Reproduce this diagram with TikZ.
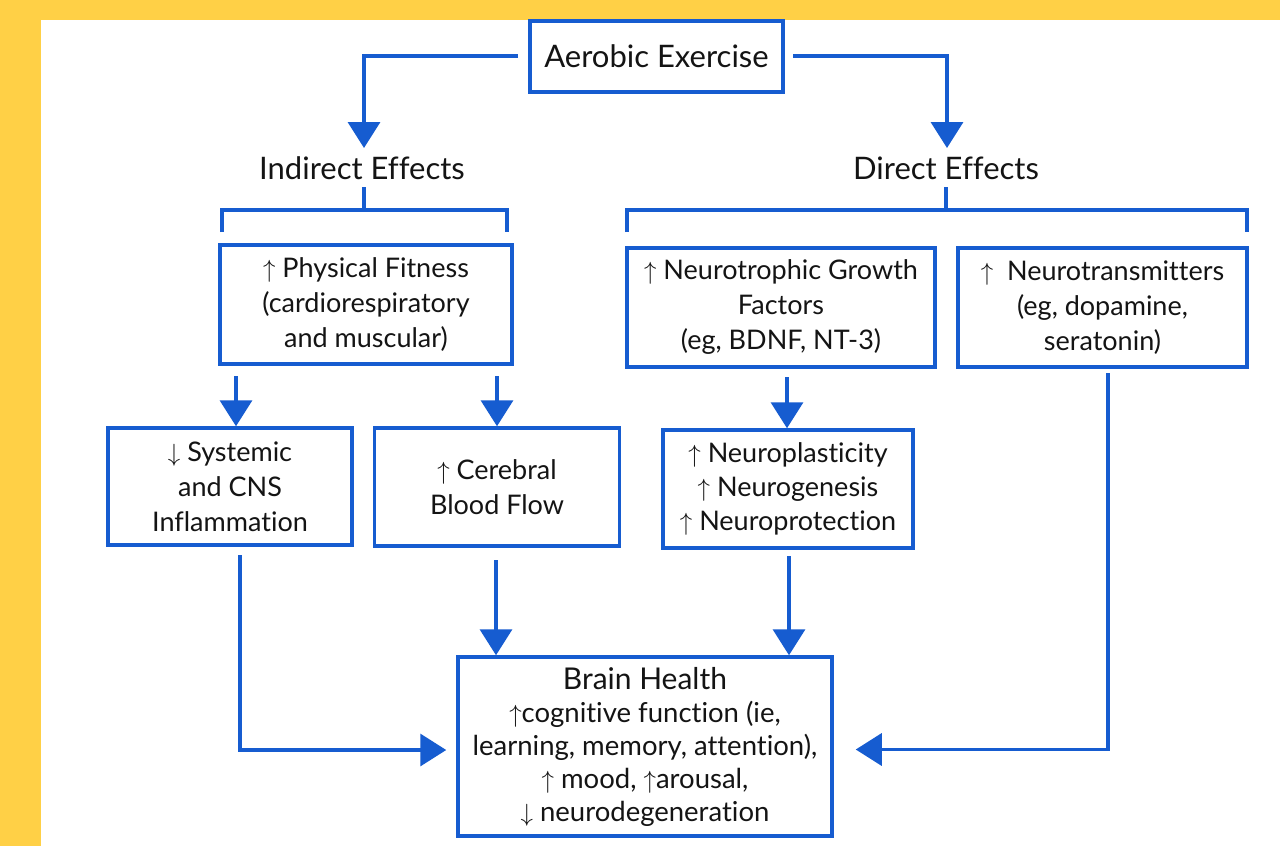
\documentclass[tikz,border=0pt]{standalone}
\usepackage{fontspec}
\setmainfont{Lato}[Ligatures=NoCommon]
\usetikzlibrary{arrows.meta}
\definecolor{bl}{RGB}{22,92,208}
\definecolor{yel}{RGB}{255,208,70}
\definecolor{ink}{RGB}{20,20,20}
\newcommand{\upar}{$\uparrow$}
\newcommand{\dnar}{$\downarrow$}
\begin{document}
\begin{tikzpicture}[x=1pt,y=-1pt,
  box/.style={draw=bl, line width=3.5pt, text=ink, align=center, inner sep=0pt,
    font=\fontsize{27}{35}\selectfont},
  ln/.style={draw=bl, line width=3.5pt},
  arr/.style={ln, -{Triangle[width=32pt,length=26pt]}},
  head/.style={text=ink, inner sep=0pt, font=\fontsize{31}{36}\selectfont}]
\fill[yel] (0,0) rectangle (1280,846);
\fill[white] (41,20) rectangle (1280,846);
\useasboundingbox (0,0) rectangle (1280,846);

% nodes
\node[box, minimum width=253pt, minimum height=71pt, font=\fontsize{31}{36}\selectfont] (aer) at (656.5,56.5) {Aerobic Exercise};
\node[head] (ind) at (362,168) {Indirect Effects};
\node[head] (dir) at (946,168) {Direct Effects};

\node[box, minimum width=292pt, minimum height=119pt] (pf) at (366,304.5)
  {\upar\ Physical Fitness\\(cardiorespiratory\\and muscular)};
\node[box, minimum width=308pt, minimum height=119pt] (ntg) at (781,307.5)
  {\upar\ Neurotrophic Growth\\Factors\\(eg, BDNF, NT-3)};
\node[box, minimum width=289pt, minimum height=119pt] (ntm) at (1102.5,307.5)
  {\upar\ \ Neurotransmitters\\(eg, dopamine,\\seratonin)};
\node[box, minimum width=244pt, minimum height=117pt] (sys) at (230,486.5)
  {\dnar\ Systemic\\and CNS\\Inflammation};
\node[box, minimum width=245pt, minimum height=118pt] (cbf) at (497,487)
  {\upar\ Cerebral\\Blood Flow};
\node[box, minimum width=250pt, minimum height=118pt, font=\fontsize{27}{34}\selectfont] (npl) at (788,489)
  {\upar\ Neuroplasticity\\\upar\ Neurogenesis\\\upar\ Neuroprotection};
\node[box, minimum width=374pt, minimum height=179pt, font=\fontsize{27.5}{33}\selectfont] (bh) at (645,746.5)
  {{\fontsize{30}{33}\selectfont Brain Health}\\\upar cognitive function (ie,\\learning, memory, attention),\\\upar\ mood, \upar arousal,\\\dnar\ neurodegeneration};

% top connectors
\coordinate (aL) at (518,56);
\coordinate (aR) at (793,56);
\coordinate (indT) at (364,148);
\coordinate (dirT) at (947,148);
\draw[arr] (aL) -| (indT);
\draw[arr] (aR) -| (dirT);

% brackets
\coordinate (bLc) at (364,187);
\coordinate (bLm) at (364,210);
\coordinate (bL1) at (222,232);
\coordinate (bL2) at (507,232);
\draw[ln] (bLc) -- (bLm);
\draw[ln] (bL1) -- (bL1 |- bLm) -- (bL2 |- bLm) -- (bL2);

\coordinate (bRc) at (946,187);
\coordinate (bRm) at (946,210);
\coordinate (bR1) at (627,232);
\coordinate (bR2) at (1247,232);
\draw[ln] (bRc) -- (bRm);
\draw[ln] (bR1) -- (bR1 |- bRm) -- (bR2 |- bRm) -- (bR2);

% middle arrows
\coordinate (p1) at (236,376);
\coordinate (p2) at (497,376);
\coordinate (p3) at (787,377);
\draw[arr] (p1) -- (p1 |- sys.north);
\draw[arr] (p2) -- (p2 |- cbf.north);
\draw[arr] (p3) -- (p3 |- npl.north);

% arrows into brain health
\coordinate (q2) at (496,560);
\coordinate (q3) at (789,556);
\draw[arr] (q2) -- (q2 |- bh.north);
\draw[arr] (q3) -- (q3 |- bh.north);

\coordinate (q1) at (240,555);
\coordinate (q4) at (1108,373);
\draw[arr, shorten >=10pt] (q1) |- ([yshift=-3.5pt]bh.west);
\draw[arr, shorten >=22pt] (q4) |- ([yshift=-3pt]bh.east);
\end{tikzpicture}
\end{document}
